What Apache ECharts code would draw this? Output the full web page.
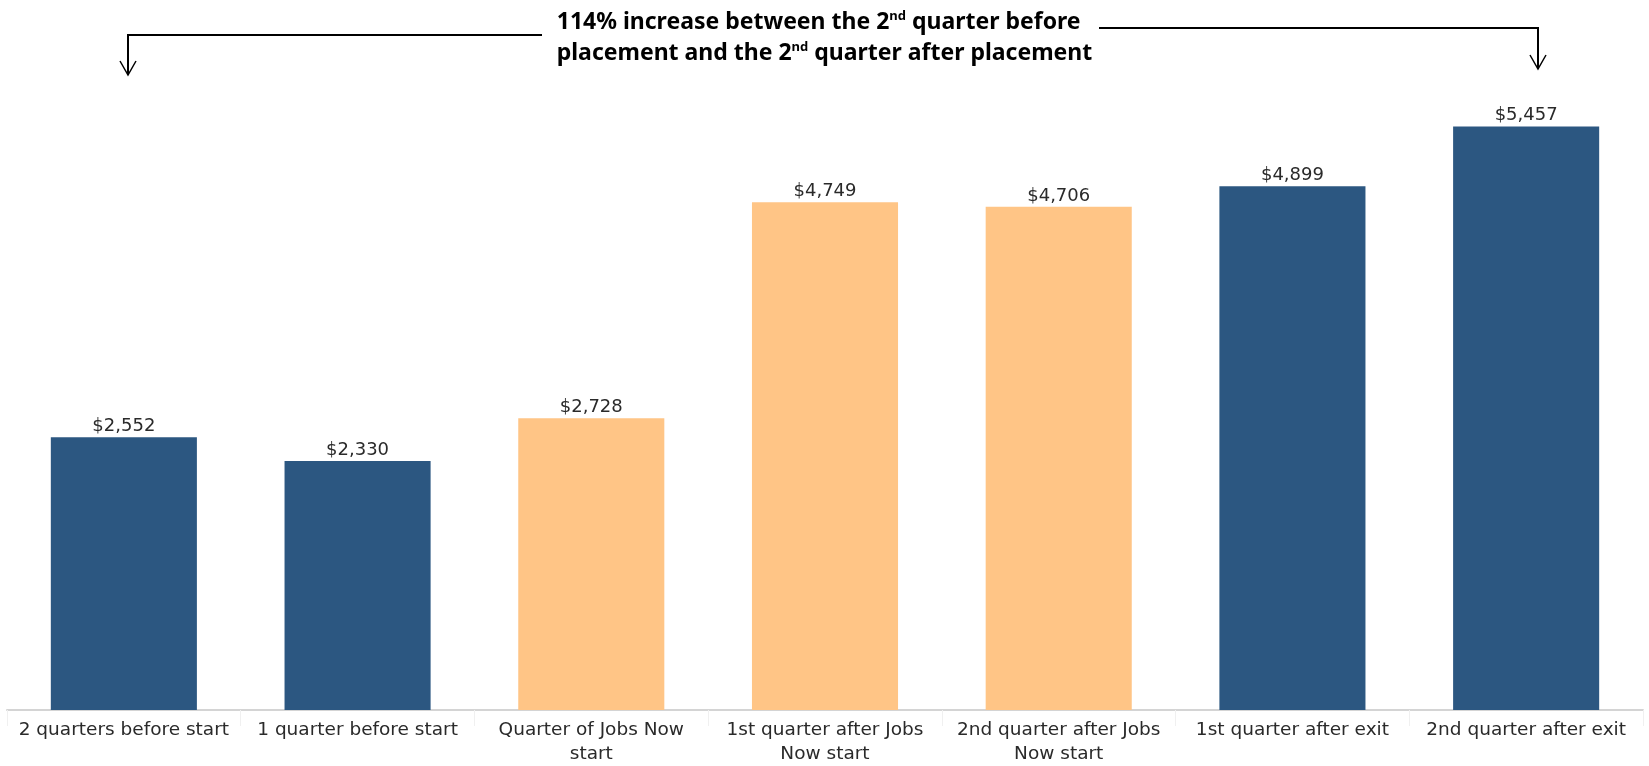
<!DOCTYPE html>
<html>
<head>
<meta charset="utf-8">
<script src="https://cdn.jsdelivr.net/npm/echarts@6/dist/echarts.min.js"></script>
<style>
  html, body { margin: 0; padding: 0; background: #fff; }
  #main { width: 1649px; height: 766px; }
</style>
</head>
<body>
<div id="main"></div>
<script>
// quarters relative to Jobs Now placement
var quarters = [
  '2 quarters before start',
  '1 quarter before start',
  'Quarter of Jobs Now\nstart',
  '1st quarter after Jobs\nNow start',
  '2nd quarter after Jobs\nNow start',
  '1st quarter after exit',
  '2nd quarter after exit'
];
var earnings = [2552, 2330, 2728, 4749, 4706, 4899, 5457];
// true = quarter falls during the Jobs Now program
var inProgram = [false, false, true, true, true, false, false];

var BLUE = '#2c5781';
var ORANGE = '#ffc586';

var myChart = echarts.init(document.getElementById('main'));
var option = {
  animation: false,
  grid: { left: 7, right: 6, top: 68.5, bottom: 51 },
  xAxis: {
    type: 'category',
    data: quarters,
    axisLine: { lineStyle: { color: '#d4d4d4', width: 2 } },
    axisTick: { show: true, length: 16, lineStyle: { color: '#f0f0f0' } },
    axisLabel: {
      interval: 0,
      margin: 8,
      color: '#2a2a2a',
      fontFamily: 'DejaVu Sans',
      fontSize: 18.5,
      lineHeight: 24
    }
  },
  yAxis: { type: 'value', min: 0, max: 6000, show: false },
  series: [{
    type: 'bar',
    data: earnings,
    barCategoryGap: '37.5%',
    itemStyle: {
      color: function (p) { return inProgram[p.dataIndex] ? ORANGE : BLUE; }
    },
    label: {
      show: true,
      position: 'top',
      distance: 2,
      color: '#2a2a2a',
      fontFamily: 'DejaVu Sans',
      fontSize: 18,
      formatter: function (p) { return '$' + p.value.toLocaleString('en-US'); }
    }
  }],
  graphic: [
    {
      type: 'text',
      left: 'center', top: 7,
      style: {
        text: '{b|114% increase between the 2}{s|nd}{b| quarter before}\n{b|placement and the 2}{s|nd}{b| quarter after placement}',
        align: 'center',
        rich: {
          b: { fontFamily: 'Noto Sans', fontWeight: 'bold', fontSize: 23, lineHeight: 31, fill: '#000' },
          s: { fontFamily: 'Noto Sans', fontWeight: 'bold', fontSize: 13, lineHeight: 31, verticalAlign: 'top', padding: [3, 0, 0, 0], fill: '#000' }
        }
      }
    },
    { type: 'polyline', shape: { points: [[542, 35], [128, 35], [128, 75]] }, style: { stroke: '#000', lineWidth: 2, fill: null } },
    { type: 'polyline', shape: { points: [[120, 61], [128, 75], [136, 61]] }, style: { stroke: '#000', lineWidth: 1.5, fill: null } },
    { type: 'polyline', shape: { points: [[1099, 28], [1538, 28], [1538, 69]] }, style: { stroke: '#000', lineWidth: 2, fill: null } },
    { type: 'polyline', shape: { points: [[1530, 55], [1538, 69], [1546, 55]] }, style: { stroke: '#000', lineWidth: 1.5, fill: null } }
  ]
};
myChart.setOption(option);
</script>
</body>
</html>
